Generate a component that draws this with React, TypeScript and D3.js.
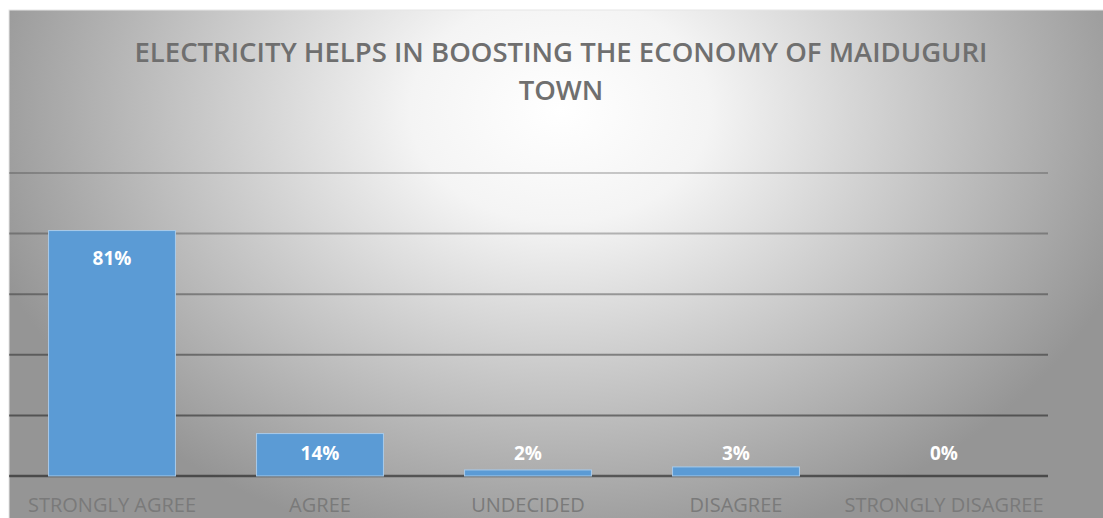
import React from "react";
import * as d3 from "d3";

const categories = ["STRONGLY AGREE", "AGREE", "UNDECIDED", "DISAGREE", "STRONGLY DISAGREE"];
const values = [81, 14, 2, 3, 0];
const valueLabels = ["81%", "14%", "2%", "3%", "0%"];
const yTicks = [0, 20, 40, 60, 80, 100];
const titleLines = ["ELECTRICITY HELPS IN BOOSTING THE ECONOMY OF MAIDUGURI", "TOWN"];

const W = 1103;
const H = 518;

export default function App() {
  const plotLeft = 8;
  const plotRight = 1048;
  const plotTop = 173;
  const plotBottom = 476;

  const x = d3.scaleBand<string>().domain(categories).range([plotLeft, plotRight]).paddingInner(0.39).paddingOuter(0.195);
  const y = d3.scaleLinear().domain([0, 100]).range([plotBottom, plotTop]);
  const op = d3.scaleLinear().domain([100, 0]).range([0.2, 0.5]);

  return (
    <div style={{ position: "absolute", left: 0, top: 0, width: W, height: H, overflow: "hidden" }}>
      <svg width={W} height={H} style={{ display: "block" }}>
        <defs>
          <radialGradient id="bg" gradientUnits="userSpaceOnUse" cx={560} cy={110} r={600} gradientTransform="translate(560 110) scale(1 0.75) translate(-560 -110)">
            <stop offset="0" stopColor="#ffffff" />
            <stop offset="0.25" stopColor="#f4f4f4" />
            <stop offset="1" stopColor="#959595" />
          </radialGradient>
        </defs>
        <rect x={0} y={0} width={W} height={H} fill="#ffffff" />
        <rect x={9} y={10} width={W} height={H} fill="url(#bg)" stroke="#e6e6e6" strokeWidth={1} />
        {titleLines.map((t, i) => (
          <text key={i} x={561} y={62 + i * 38} textAnchor="middle" fontFamily="'Open Sans', sans-serif" fontWeight={600} fontSize={27.5} fill="#6f6f6f">
            {t}
          </text>
        ))}
        {yTicks.map((t) => (
          <line key={t} x1={9} x2={plotRight} y1={y(t)} y2={y(t)} stroke="#000" strokeOpacity={op(t)} strokeWidth={t === 0 ? 2.5 : 2} />
        ))}
        {categories.map((c, i) => (
          <rect key={c} x={x(c)!} y={y(values[i])} width={x.bandwidth()} height={plotBottom - y(values[i])} fill="#5b9bd5" stroke="#a9cbea" strokeWidth={1} />
        ))}
        {categories.map((c, i) => (
          <text key={c} x={x(c)! + x.bandwidth() / 2} y={Math.min(y(values[i]) + 27, 453) + 7} textAnchor="middle" fontFamily="'Open Sans', sans-serif" fontWeight={700} fontSize={19} fill="#ffffff">
            {valueLabels[i]}
          </text>
        ))}
        {categories.map((c) => (
          <text key={c} x={x(c)! + x.bandwidth() / 2} y={512} textAnchor="middle" fontFamily="'Open Sans', sans-serif" fontSize={20} fill="#7a7a7a">
            {c}
          </text>
        ))}
      </svg>
    </div>
  );
}
